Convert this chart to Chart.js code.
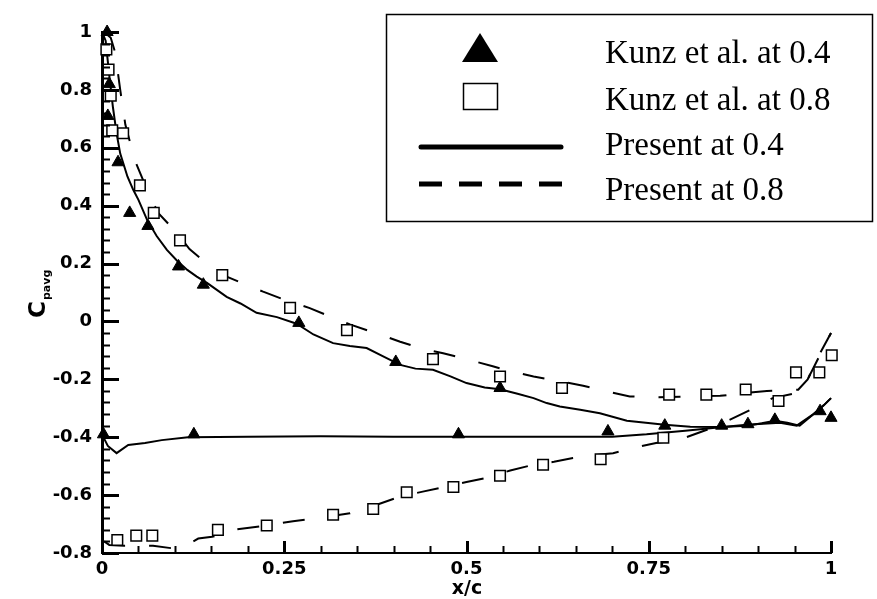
<!DOCTYPE html>
<html>
<head>
<meta charset="utf-8">
<script src="https://cdn.jsdelivr.net/npm/chart.js@4/dist/chart.umd.min.js"></script>
<style>
  html, body { margin: 0; padding: 0; background: #fff; }
  #wrap { width: 877px; height: 599px; }
</style>
</head>
<body>
<div id="wrap"><canvas id="cp" width="877" height="599"></canvas></div>
<script>
// Kunz et al. at 0.4 (filled triangles)
const kunz04X = [0.007, 0.01, 0.008, 0.022, 0.038, 0.063, 0.105, 0.139, 0.27, 0.403, 0.546, 0.772, 0.85, 0.886, 0.923, 0.985, 1.0,
                 0.002, 0.126, 0.489, 0.694];
const kunz04Y = [1.0, 0.82, 0.71, 0.55, 0.375, 0.33, 0.19, 0.127, -0.005, -0.14, -0.23, -0.36, -0.36, -0.355, -0.34, -0.31, -0.333,
                 -0.39, -0.39, -0.39, -0.38];

// Kunz et al. at 0.8 (open squares)
const kunz08X = [0.006, 0.009, 0.012, 0.014, 0.029, 0.052, 0.071, 0.107, 0.165, 0.258, 0.336, 0.454, 0.546, 0.631, 0.778, 0.829, 0.883, 0.928, 0.952, 0.984, 1.001,
                 0.021, 0.047, 0.069, 0.159, 0.226, 0.317, 0.372, 0.418, 0.482, 0.546, 0.605, 0.684, 0.77];
const kunz08Y = [0.94, 0.87, 0.78, 0.66, 0.65, 0.47, 0.375, 0.28, 0.16, 0.047, -0.03, -0.13, -0.19, -0.23, -0.253, -0.253, -0.235, -0.275, -0.176, -0.176, -0.117,
                 -0.755, -0.74, -0.74, -0.72, -0.705, -0.668, -0.648, -0.59, -0.572, -0.533, -0.495, -0.476, -0.402];

// Present at 0.4 (solid)
const pres04UpX = [0, 0.005, 0.01, 0.015, 0.02, 0.025, 0.035, 0.043, 0.05, 0.062, 0.075, 0.089, 0.103, 0.117, 0.13, 0.144, 0.158, 0.171, 0.19, 0.212, 0.24, 0.267, 0.29, 0.317, 0.34, 0.363, 0.385, 0.409, 0.43, 0.454, 0.478, 0.5, 0.525, 0.546, 0.57, 0.592, 0.61, 0.628, 0.656, 0.683, 0.72, 0.772, 0.807, 0.85, 0.885, 0.905, 0.923, 0.94, 0.957, 0.975, 0.99, 1.0];
const pres04UpY = [1.0, 0.97, 0.85, 0.74, 0.65, 0.58, 0.5, 0.454, 0.42, 0.35, 0.295, 0.247, 0.21, 0.178, 0.155, 0.133, 0.108, 0.085, 0.062, 0.03, 0.015, -0.008, -0.045, -0.075, -0.085, -0.092, -0.12, -0.15, -0.163, -0.167, -0.19, -0.213, -0.228, -0.234, -0.25, -0.265, -0.282, -0.294, -0.305, -0.317, -0.343, -0.357, -0.364, -0.365, -0.36, -0.352, -0.343, -0.35, -0.36, -0.322, -0.29, -0.265];
const pres04LoX = [0, 0.008, 0.02, 0.036, 0.059, 0.082, 0.118, 0.2, 0.3, 0.4, 0.5, 0.6, 0.7, 0.747, 0.8, 0.838, 0.884, 0.93, 0.953, 0.975, 0.99, 1.0];
const pres04LoY = [-0.39, -0.43, -0.455, -0.427, -0.42, -0.41, -0.4, -0.398, -0.397, -0.398, -0.398, -0.398, -0.398, -0.39, -0.378, -0.368, -0.357, -0.35, -0.36, -0.322, -0.29, -0.265];

// Present at 0.8 (dashed)
const pres08UpX = [0.003, 0.012, 0.018, 0.025, 0.032, 0.045, 0.062, 0.077, 0.09, 0.103, 0.12, 0.144, 0.171, 0.195, 0.221, 0.25, 0.285, 0.31, 0.34, 0.375, 0.409, 0.44, 0.468, 0.5, 0.536, 0.565, 0.592, 0.625, 0.66, 0.69, 0.724, 0.76, 0.793, 0.82, 0.848, 0.88, 0.912, 0.935, 0.955, 0.968, 0.985, 1.0];
const pres08UpY = [1.0, 0.98, 0.93, 0.8, 0.68, 0.557, 0.454, 0.375, 0.34, 0.305, 0.25, 0.2, 0.155, 0.13, 0.103, 0.075, 0.046, 0.02, -0.01, -0.04, -0.07, -0.095, -0.11, -0.13, -0.155, -0.175, -0.19, -0.205, -0.222, -0.24, -0.259, -0.262, -0.26, -0.258, -0.257, -0.248, -0.24, -0.238, -0.236, -0.2, -0.11, -0.04];
const pres08LoX = [0.003, 0.01, 0.03, 0.07, 0.1, 0.118, 0.132, 0.151, 0.165, 0.18, 0.226, 0.262, 0.3, 0.34, 0.375, 0.409, 0.44, 0.464, 0.5, 0.528, 0.56, 0.592, 0.62, 0.646, 0.683, 0.701, 0.729, 0.76, 0.793, 0.84, 0.889, 0.92, 0.953, 0.968, 0.98, 1.0];
const pres08LoY = [-0.76, -0.772, -0.775, -0.775, -0.785, -0.77, -0.75, -0.744, -0.735, -0.72, -0.705, -0.69, -0.678, -0.663, -0.635, -0.605, -0.588, -0.575, -0.555, -0.54, -0.515, -0.495, -0.485, -0.472, -0.46, -0.455, -0.437, -0.42, -0.408, -0.365, -0.306, -0.265, -0.247, -0.2, -0.14, -0.04];

const legendLabels = ['Kunz et al. at 0.4', 'Kunz et al. at 0.8', 'Present at 0.4', 'Present at 0.8'];
const xTickValues = [0, 0.25, 0.5, 0.75, 1];
const yTickValues = [-0.8, -0.6, -0.4, -0.2, 0, 0.2, 0.4, 0.6, 0.8, 1];
const xMinorStep = 0.05;
const yMinorStep = 0.04;

const pts = (xs, ys) => xs.map((x, i) => ({ x: x, y: ys[i] }));
const fmt = (v) => String(+Number(v).toFixed(2));
const DASH = [22, 24];

const lineSet = (data, dashed) => ({
  data: data,
  showLine: true,
  borderColor: '#000',
  borderWidth: 2,
  borderDash: dashed ? DASH : [],
  pointRadius: 0,
  tension: 0,
  clip: false
});

// inward major/minor tick marks on both axes
function drawInnerTicks(chart, ctx) {
  const sx = chart.scales.x, sy = chart.scales.y;
  const left = chart.chartArea.left, bottom = chart.chartArea.bottom;
  ctx.save();
  ctx.strokeStyle = '#000';
  ctx.setLineDash([]);
  ctx.lineCap = 'butt';
  for (let i = 0; i <= 45; i++) {
    const major = i % 5 === 0;
    const py = Math.round(sy.getPixelForValue(-0.8 + i * yMinorStep)) + 0.5;
    ctx.lineWidth = major ? 3 : 2;
    ctx.beginPath();
    ctx.moveTo(left, py);
    ctx.lineTo(left + (major ? 17 : 8), py);
    ctx.stroke();
  }
  for (let i = 0; i <= 20; i++) {
    const major = i % 5 === 0;
    const px = Math.round(sx.getPixelForValue(i * xMinorStep)) + 0.5;
    ctx.lineWidth = major ? 3 : 2;
    ctx.beginPath();
    ctx.moveTo(px, bottom);
    ctx.lineTo(px, bottom - (major ? 12 : 7));
    ctx.stroke();
  }
  ctx.restore();
}

// ticks, axis titles and boxed legend
const decorations = {
  id: 'decorations',
  afterDraw(chart) {
    const ctx = chart.ctx;
    drawInnerTicks(chart, ctx);

    ctx.save();
    ctx.fillStyle = '#000';
    ctx.strokeStyle = '#000';

    // y title: C with subscript pavg
    ctx.save();
    ctx.translate(45, 318);
    ctx.rotate(-Math.PI / 2);
    ctx.textAlign = 'left';
    ctx.textBaseline = 'alphabetic';
    ctx.font = 'bold 23px "DejaVu Sans"';
    ctx.fillText('C', 0, 0);
    ctx.font = 'bold 11px "DejaVu Sans"';
    ctx.fillText('pavg', 18, 5);
    ctx.restore();

    // x title
    ctx.font = 'bold 19px "DejaVu Sans"';
    ctx.textAlign = 'center';
    ctx.textBaseline = 'alphabetic';
    ctx.fillText('x/c', 467, 594);

    // legend box
    ctx.lineWidth = 1.5;
    ctx.strokeRect(386.5, 14.5, 486, 207);

    ctx.beginPath();
    ctx.moveTo(480, 33);
    ctx.lineTo(498, 62);
    ctx.lineTo(462, 62);
    ctx.closePath();
    ctx.fill();

    ctx.lineWidth = 1.5;
    ctx.strokeRect(463.5, 83.5, 34, 26);

    ctx.lineWidth = 5;
    ctx.lineCap = 'round';
    ctx.beginPath();
    ctx.moveTo(421, 147);
    ctx.lineTo(561, 147);
    ctx.stroke();

    ctx.lineCap = 'butt';
    ctx.setLineDash([23, 17]);
    ctx.beginPath();
    ctx.moveTo(419, 184);
    ctx.lineTo(564, 184);
    ctx.stroke();
    ctx.setLineDash([]);

    ctx.font = '33px "Liberation Serif", "Times New Roman", serif';
    ctx.textAlign = 'left';
    ctx.textBaseline = 'alphabetic';
    const baselines = [63, 110, 155, 200];
    legendLabels.forEach((t, i) => ctx.fillText(t, 605, baselines[i]));
    ctx.restore();
  }
};

const tickFont = { family: 'DejaVu Sans', weight: 'bold', size: 18 };

new Chart(document.getElementById('cp').getContext('2d'), {
  type: 'scatter',
  data: {
    datasets: [
      { label: legendLabels[0], data: pts(kunz04X, kunz04Y), pointStyle: 'triangle', pointRadius: 7,
        backgroundColor: '#000', borderColor: '#000', borderWidth: 1, clip: false },
      { label: legendLabels[1], data: pts(kunz08X, kunz08Y), pointStyle: 'rect', pointRadius: 7.5,
        backgroundColor: '#fff', borderColor: '#000', borderWidth: 1.5, clip: false },
      Object.assign({ label: legendLabels[2] }, lineSet(pts(pres04UpX, pres04UpY), false)),
      Object.assign({ label: legendLabels[2] + ' lower' }, lineSet(pts(pres04LoX, pres04LoY), false)),
      Object.assign({ label: legendLabels[3] }, lineSet(pts(pres08UpX, pres08UpY), true)),
      Object.assign({ label: legendLabels[3] + ' lower' }, lineSet(pts(pres08LoX, pres08LoY), true))
    ]
  },
  options: {
    responsive: false,
    animation: false,
    layout: { padding: { left: 0, top: 32, right: 46, bottom: 0 } },
    plugins: { legend: { display: false }, tooltip: { enabled: false } },
    scales: {
      x: {
        type: 'linear', min: 0, max: 1,
        afterBuildTicks: (s) => { s.ticks = xTickValues.map(v => ({ value: v })); },
        afterFit: (s) => { s.height = 46; },
        grid: { drawOnChartArea: false, drawTicks: false },
        border: { display: true, color: '#000', width: 2 },
        ticks: { color: '#000', font: tickFont, padding: 6, maxRotation: 0, autoSkip: false, callback: fmt }
      },
      y: {
        type: 'linear', min: -0.8, max: 1,
        afterBuildTicks: (s) => { s.ticks = yTickValues.map(v => ({ value: v })); },
        afterFit: (s) => { s.width = 102; },
        grid: { drawOnChartArea: false, drawTicks: false },
        border: { display: true, color: '#000', width: 3 },
        ticks: { color: '#000', font: tickFont, padding: 10, autoSkip: false, callback: fmt }
      }
    }
  },
  plugins: [decorations]
});
</script>
</body>
</html>
